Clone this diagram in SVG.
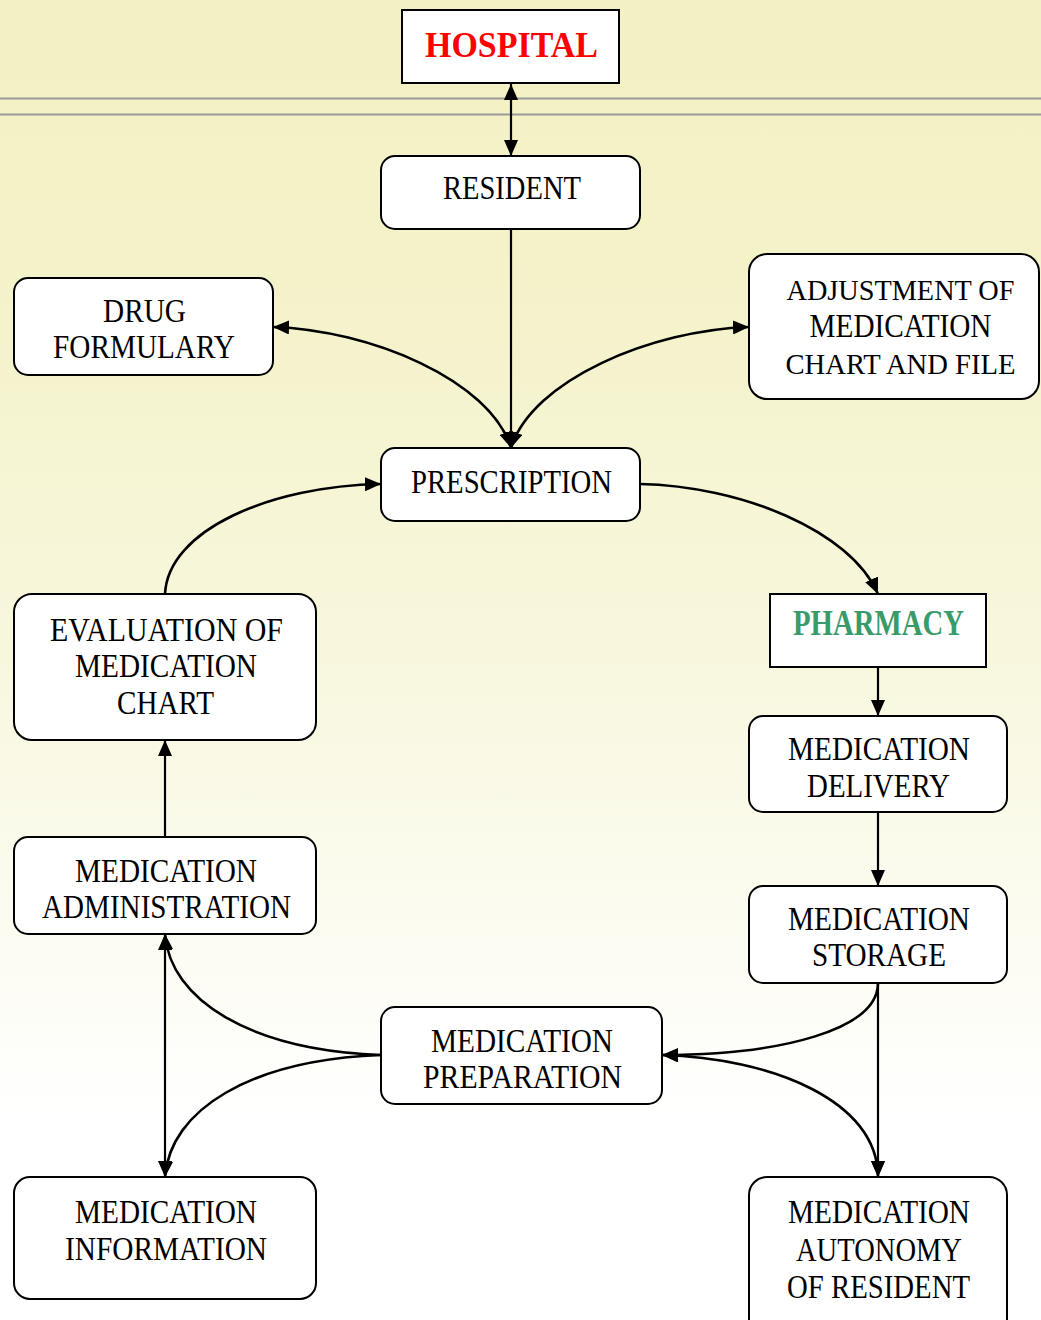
<svg xmlns="http://www.w3.org/2000/svg" width="1041" height="1320" viewBox="0 0 1041 1320">
<defs>
<linearGradient id="bg" x1="0" y1="0" x2="0" y2="1">
<stop offset="0" stop-color="#F3F1C3"/>
<stop offset="0.2" stop-color="#F4F2C8"/>
<stop offset="0.5" stop-color="#F8F7DE"/>
<stop offset="0.85" stop-color="#FFFFFF"/>
<stop offset="1" stop-color="#FFFFFF"/>
</linearGradient>
<marker id="ah" viewBox="0 0 16 14" refX="16" refY="7" markerWidth="16" markerHeight="14" markerUnits="userSpaceOnUse" orient="auto-start-reverse">
<path d="M0,0 L16,7 L0,14 z" fill="#000"/>
</marker>
<style>
.box{fill:#fff;stroke:#000;stroke-width:2}
.t{font-family:"Liberation Serif","Times New Roman",serif;font-size:33px;fill:#000;text-anchor:middle}
.n{font-size:30px}
.b{font-weight:bold;font-size:35px}
.c{fill:none;stroke:#000;stroke-width:2.2}
.k{stroke-width:2.6}
.e{marker-end:url(#ah)}
.s{marker-start:url(#ah)}
.sep{stroke:#9a9a9a;stroke-width:2}
</style>
</defs>
<rect x="0" y="0" width="1041" height="1320" fill="url(#bg)"/>
<line class="sep" x1="0" y1="98.5" x2="1041" y2="98.5"/>
<line class="sep" x1="0" y1="114.5" x2="1041" y2="114.5"/>

<g id="connectors">
<path class="c s e" d="M511,84 L511,156"/>
<path class="c e" d="M511,229 L511,448"/>
<path class="c k s e" d="M273,327 C370,330 490,380 511,448"/>
<path class="c k s e" d="M749,327 C652,330 532,380 511,448"/>
<path class="c k e" d="M165,594 C168,530 270,486 381,484"/>
<path class="c k e" d="M640,484 C740,486 850,530 878,594"/>
<path class="c e" d="M878,667 L878,716"/>
<path class="c e" d="M878,812 L878,886"/>
<path class="c e" d="M878,983 L878,1177"/>
<path class="c k e" d="M878,983 C878,1030 780,1055 662,1055"/>
<path class="c k s e" d="M662,1055 C770,1058 878,1100 878,1177"/>
<path class="c k e" d="M381,1055 C250,1050 170,1000 165,934"/>
<path class="c k e" d="M381,1055 C250,1060 170,1110 165,1177"/>
<path class="c s e" d="M165,934 L165,1177"/>
<path class="c e" d="M165,837 L165,740"/>
</g>

<g id="hospital">
<rect class="box" x="402" y="10" width="217" height="73"/>
<text class="t b" x="511.5" y="57" style="fill:#FF0000" textLength="173" lengthAdjust="spacingAndGlyphs">HOSPITAL</text>
</g>
<g id="resident">
<rect class="box" x="381" y="156" width="259" height="73" rx="14"/>
<text class="t" x="512" y="199" textLength="138" lengthAdjust="spacingAndGlyphs">RESIDENT</text>
</g>
<g id="drug-formulary">
<rect class="box" x="14" y="278" width="259" height="97" rx="14"/>
<text class="t" x="144.5" y="322" textLength="83" lengthAdjust="spacingAndGlyphs">DRUG</text>
<text class="t" x="144" y="358" textLength="182" lengthAdjust="spacingAndGlyphs">FORMULARY</text>
</g>
<g id="adjustment">
<rect class="box" x="749" y="254" width="290" height="145" rx="18"/>
<text class="t n" x="900.5" y="300" textLength="228" lengthAdjust="spacingAndGlyphs">ADJUSTMENT OF</text>
<text class="t" x="900.5" y="337" textLength="182" lengthAdjust="spacingAndGlyphs">MEDICATION</text>
<text class="t n" x="900.5" y="374" textLength="230" lengthAdjust="spacingAndGlyphs">CHART AND FILE</text>
</g>
<g id="prescription">
<rect class="box" x="381" y="448" width="259" height="73" rx="14"/>
<text class="t" x="511.5" y="493" textLength="201" lengthAdjust="spacingAndGlyphs">PRESCRIPTION</text>
</g>
<g id="evaluation">
<rect class="box" x="14" y="594" width="302" height="146" rx="18"/>
<text class="t" x="166.5" y="641" textLength="233" lengthAdjust="spacingAndGlyphs">EVALUATION OF</text>
<text class="t" x="166" y="677" textLength="182" lengthAdjust="spacingAndGlyphs">MEDICATION</text>
<text class="t" x="165.5" y="714" textLength="97" lengthAdjust="spacingAndGlyphs">CHART</text>
</g>
<g id="pharmacy">
<rect class="box" x="770" y="594" width="216" height="73"/>
<text class="t b" x="878.5" y="635" style="fill:#389B69" textLength="171" lengthAdjust="spacingAndGlyphs">PHARMACY</text>
</g>
<g id="medication-delivery">
<rect class="box" x="749" y="716" width="258" height="96" rx="14"/>
<text class="t" x="879" y="760" textLength="182" lengthAdjust="spacingAndGlyphs">MEDICATION</text>
<text class="t" x="878.5" y="797" textLength="143" lengthAdjust="spacingAndGlyphs">DELIVERY</text>
</g>
<g id="medication-administration">
<rect class="box" x="14" y="837" width="302" height="97" rx="14"/>
<text class="t" x="166" y="882" textLength="182" lengthAdjust="spacingAndGlyphs">MEDICATION</text>
<text class="t" x="166.5" y="918" textLength="249" lengthAdjust="spacingAndGlyphs">ADMINISTRATION</text>
</g>
<g id="medication-storage">
<rect class="box" x="749" y="886" width="258" height="97" rx="14"/>
<text class="t" x="879" y="930" textLength="182" lengthAdjust="spacingAndGlyphs">MEDICATION</text>
<text class="t" x="879" y="966" textLength="134" lengthAdjust="spacingAndGlyphs">STORAGE</text>
</g>
<g id="medication-preparation">
<rect class="box" x="381" y="1007" width="281" height="97" rx="14"/>
<text class="t" x="522" y="1052" textLength="182" lengthAdjust="spacingAndGlyphs">MEDICATION</text>
<text class="t" x="522.5" y="1088" textLength="199" lengthAdjust="spacingAndGlyphs">PREPARATION</text>
</g>
<g id="medication-information">
<rect class="box" x="14" y="1177" width="302" height="122" rx="16"/>
<text class="t" x="166" y="1223" textLength="182" lengthAdjust="spacingAndGlyphs">MEDICATION</text>
<text class="t" x="166" y="1260" textLength="202" lengthAdjust="spacingAndGlyphs">INFORMATION</text>
</g>
<g id="medication-autonomy">
<rect class="box" x="749" y="1177" width="258" height="160" rx="18"/>
<text class="t" x="879" y="1223" textLength="182" lengthAdjust="spacingAndGlyphs">MEDICATION</text>
<text class="t" x="879" y="1261" textLength="166" lengthAdjust="spacingAndGlyphs">AUTONOMY</text>
<text class="t" x="878.5" y="1298" textLength="183" lengthAdjust="spacingAndGlyphs">OF RESIDENT</text>
</g>
</svg>
